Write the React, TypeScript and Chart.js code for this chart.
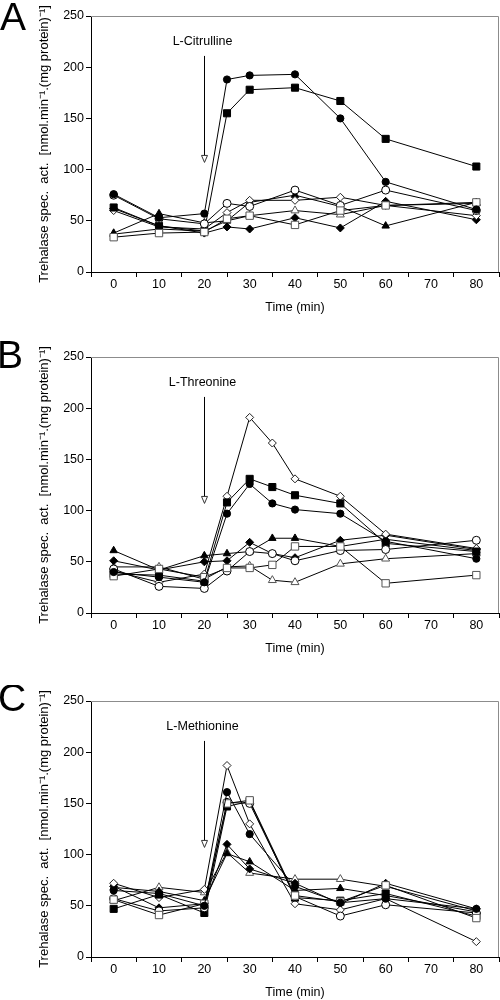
import React, { useEffect, useRef } from "react";
import { Chart, registerables } from "chart.js";

Chart.register(...registerables);

const FONT = '"Liberation Sans", Arial, Helvetica, sans-serif';

// ---------- data ----------
const TIME_A = [0, 10, 20, 25, 30, 40, 50, 60, 80];
const TIME_B = [0, 10, 20, 25, 30, 35, 40, 50, 60, 80];
const TIME_C = [0, 10, 20, 25, 30, 40, 50, 60, 80];

const X_MIN = -5;
const X_MAX = 85;
const X_STEP = 5;
const Y_MIN = 0;
const Y_MAX = 250;
const Y_STEP = 50;

const X_TITLE = "Time (min)";
const Y_TITLE = "Trehalase spec.  act.  [nmol.min\u207B\u00B9.(mg protein)\u207B\u00B9]";

// Panel A – L-Citrulline
const A_FILLED_CIRCLE = [76, 53, 57, 188, 192, 193, 150, 88, 61];
const A_FILLED_SQUARE = [63, 45, 40, 155, 178, 180, 167, 130, 103];
const A_OPEN_CIRCLE = [75, 52, 47, 67, 64, 80, 65, 80, 60];
const A_OPEN_DIAMOND = [60, 44, 42, 58, 70, 70, 73, 65, 55];
const A_FILLED_DIAMOND = [62, 45, 38, 44, 42, 53, 43, 69, 51];
const A_FILLED_TRIANGLE = [38, 57, 48, 50, 68, 75, 64, 45, 68];
const A_OPEN_TRIANGLE = [37, 42, 40, 50, 55, 60, 56, 65, 67];
const A_OPEN_SQUARE = [34, 38, 39, 52, 55, 46, 60, 65, 68];

// Panel B – L-Threonine
const B_FILLED_CIRCLE = [40, 35, 30, 97, 126, 107, 101, 97, 70, 53];
const B_FILLED_SQUARE = [38, 37, 31, 108, 131, 123, 115, 107, 68, 60];
const B_OPEN_CIRCLE = [43, 26, 24, 41, 60, 58, 51, 61, 62, 71];
const B_OPEN_DIAMOND = [41, 30, 38, 114, 191, 166, 131, 114, 77, 63];
const B_FILLED_DIAMOND = [51, 42, 50, 51, 69, 58, 54, 71, 76, 62];
const B_FILLED_TRIANGLE = [61, 42, 56, 58, 60, 73, 73, 65, 72, 61];
const B_OPEN_TRIANGLE = [45, 45, 33, 45, 46, 32, 30, 48, 53, 58];
const B_OPEN_SQUARE = [36, 43, 35, 44, 44, 47, 65, 65, 29, 37];

// Panel C – L-Methionine
const C_FILLED_CIRCLE = [65, 62, 50, 161, 120, 69, 53, 57, 47];
const C_FILLED_SQUARE = [47, 61, 43, 147, 152, 58, 55, 62, 40];
const C_OPEN_CIRCLE = [57, 45, 48, 151, 150, 59, 40, 51, 43];
const C_OPEN_DIAMOND = [72, 58, 66, 187, 130, 52, 46, 57, 15];
const C_FILLED_DIAMOND = [69, 48, 52, 110, 86, 72, 52, 72, 47];
const C_FILLED_TRIANGLE = [68, 64, 55, 101, 93, 65, 67, 60, 44];
const C_OPEN_TRIANGLE = [55, 68, 63, 102, 82, 76, 76, 69, 45];
const C_OPEN_SQUARE = [56, 41, 52, 150, 153, 60, 54, 70, 38];

// Annotation (arrow at addition time)
const ARROW_TIME = 20;
const ARROW_FROM = 211;
const ARROW_TO = 107;
const LABEL_AT = 225;

// ---------- styles ----------
type MarkerKey =
  | "filledCircle"
  | "openSquare"
  | "openCircle"
  | "filledSquare"
  | "openDiamond"
  | "filledDiamond"
  | "filledTriangle"
  | "openTriangle";

const MARKERS: Record<MarkerKey, { style: string; radius: number; fill: string; stroke: string }> = {
  filledCircle: { style: "circle", radius: 3.6, fill: "#000", stroke: "#000" },
  openSquare: { style: "rect", radius: 5.2, fill: "#fff", stroke: "#555" },
  openCircle: { style: "circle", radius: 4, fill: "#fff", stroke: "#000" },
  filledSquare: { style: "rect", radius: 5, fill: "#000", stroke: "#000" },
  openDiamond: { style: "rectRot", radius: 4, fill: "#fff", stroke: "#222" },
  filledDiamond: { style: "rectRot", radius: 4, fill: "#000", stroke: "#000" },
  filledTriangle: { style: "triangle", radius: 4.3, fill: "#000", stroke: "#000" },
  openTriangle: { style: "triangle", radius: 4.6, fill: "#fff", stroke: "#555" },
};

type PanelDef = {
  letter: string;
  letterX: number;
  letterDy: number;
  label: string;
  top: number;
  times: number[];
  series: [MarkerKey, number[]][];
};

const PANELS: PanelDef[] = [
  {
    letter: "A",
    letterX: 0,
    letterDy: 14,
    label: "L-Citrulline",
    top: 0,
    times: TIME_A,
    series: [
      ["filledCircle", A_FILLED_CIRCLE],
      ["openSquare", A_OPEN_SQUARE],
      ["openCircle", A_OPEN_CIRCLE],
      ["filledSquare", A_FILLED_SQUARE],
      ["openDiamond", A_OPEN_DIAMOND],
      ["filledDiamond", A_FILLED_DIAMOND],
      ["filledTriangle", A_FILLED_TRIANGLE],
      ["openTriangle", A_OPEN_TRIANGLE],
    ],
  },
  {
    letter: "B",
    letterX: -3,
    letterDy: 11,
    label: "L-Threonine",
    top: 341,
    times: TIME_B,
    series: [
      ["filledCircle", B_FILLED_CIRCLE],
      ["openSquare", B_OPEN_SQUARE],
      ["openCircle", B_OPEN_CIRCLE],
      ["filledSquare", B_FILLED_SQUARE],
      ["openDiamond", B_OPEN_DIAMOND],
      ["filledDiamond", B_FILLED_DIAMOND],
      ["filledTriangle", B_FILLED_TRIANGLE],
      ["openTriangle", B_OPEN_TRIANGLE],
    ],
  },
  {
    letter: "C",
    letterX: -2,
    letterDy: 10,
    label: "L-Methionine",
    top: 685,
    times: TIME_C,
    series: [
      ["filledCircle", C_FILLED_CIRCLE],
      ["openSquare", C_OPEN_SQUARE],
      ["openCircle", C_OPEN_CIRCLE],
      ["filledSquare", C_FILLED_SQUARE],
      ["openDiamond", C_OPEN_DIAMOND],
      ["filledDiamond", C_FILLED_DIAMOND],
      ["filledTriangle", C_FILLED_TRIANGLE],
      ["openTriangle", C_OPEN_TRIANGLE],
    ],
  },
];

const CANVAS_W = 500;
const CANVAS_H = 315;

const decorPlugin = {
  id: "panelDecor",
  afterDraw(chart: any, _args: any, opts: any) {
    const { ctx, chartArea: ca, scales } = chart;
    ctx.save();
    // top & right frame
    ctx.strokeStyle = "#8c8c8c";
    ctx.lineWidth = 1;
    ctx.beginPath();
    ctx.moveTo(ca.left, ca.top + 0.5);
    ctx.lineTo(ca.right - 0.5, ca.top + 0.5);
    ctx.lineTo(ca.right - 0.5, ca.bottom);
    ctx.stroke();

    // panel letter
    ctx.fillStyle = "#000";
    ctx.font = `39px ${FONT}`;
    ctx.textAlign = "left";
    ctx.textBaseline = "alphabetic";
    ctx.fillText(opts.letter, opts.letterX, ca.top + opts.letterDy);

    // annotation label and arrow
    const x = Math.round(scales.x.getPixelForValue(opts.arrowTime)) + 0.5;
    const yFrom = scales.y.getPixelForValue(opts.arrowFrom);
    const yTo = scales.y.getPixelForValue(opts.arrowTo);
    const yLab = scales.y.getPixelForValue(opts.labelAt);
    ctx.font = `12.5px ${FONT}`;
    ctx.textAlign = "center";
    ctx.textBaseline = "middle";
    ctx.fillText(opts.label, x - 2, yLab);

    ctx.strokeStyle = "#000";
    ctx.beginPath();
    ctx.moveTo(x, yFrom);
    ctx.lineTo(x, yTo - 7);
    ctx.stroke();
    ctx.fillStyle = "#fff";
    ctx.strokeStyle = "#333";
    ctx.beginPath();
    ctx.moveTo(x - 3, yTo - 7);
    ctx.lineTo(x + 3, yTo - 7);
    ctx.lineTo(x, yTo);
    ctx.closePath();
    ctx.fill();
    ctx.stroke();
    ctx.restore();
  },
};

function Panel({ def }: { def: PanelDef }) {
  const ref = useRef<HTMLCanvasElement | null>(null);

  useEffect(() => {
    if (!ref.current) return;
    const datasets = def.series.map(([key, values]) => {
      const m = MARKERS[key];
      return {
        label: key,
        data: def.times.map((t, i) => ({ x: t, y: values[i] })),
        borderColor: "#000",
        borderWidth: 1,
        pointStyle: m.style,
        pointRadius: m.radius,
        pointBackgroundColor: m.fill,
        pointBorderColor: m.stroke,
        pointBorderWidth: 1,
        fill: false,
        tension: 0,
      };
    });

    const chart = new Chart(ref.current, {
      type: "line",
      data: { datasets } as any,
      plugins: [decorPlugin],
      options: {
        animation: false,
        responsive: false,
        maintainAspectRatio: false,
        layout: { autoPadding: false, padding: { top: 16, right: 1, bottom: 0, left: 0 } },
        plugins: {
          legend: { display: false },
          tooltip: { enabled: false },
          panelDecor: {
            letter: def.letter,
            letterX: def.letterX,
            letterDy: def.letterDy,
            label: def.label,
            arrowTime: ARROW_TIME,
            arrowFrom: ARROW_FROM,
            arrowTo: ARROW_TO,
            labelAt: LABEL_AT,
          },
        } as any,
        scales: {
          x: {
            type: "linear",
            min: X_MIN,
            max: X_MAX,
            afterFit: (axis: any) => {
              axis.height = 43;
              axis.paddingLeft = 0;
              axis.paddingRight = 0;
            },
            ticks: {
              stepSize: X_STEP,
              autoSkip: false,
              maxRotation: 0,
              padding: 0,
              color: "#000",
              font: { family: FONT, size: 12.5 },
              callback: (v: any) => {
                const n = Number(v);
                return n >= 0 && n <= 80 && n % 10 === 0 ? String(n) : "";
              },
            },
            grid: {
              drawOnChartArea: false,
              drawTicks: true,
              tickLength: 5,
              color: (c: any) => (c.tick && c.tick.value % 10 === 0 ? "rgba(0,0,0,0)" : "#000"),
              tickColor: (c: any) => (c.tick && c.tick.value % 10 === 0 ? "rgba(0,0,0,0)" : "#000"),
            },
            border: { display: true, color: "#000", width: 1 },
            title: {
              display: true,
              text: X_TITLE,
              color: "#000",
              font: { family: FONT, size: 12.5 },
              padding: { top: 0, bottom: 0 },
            },
          },
          y: {
            type: "linear",
            min: Y_MIN,
            max: Y_MAX,
            afterFit: (axis: any) => {
              axis.width = 91;
            },
            ticks: {
              stepSize: Y_STEP,
              padding: 2,
              color: "#000",
              font: { family: FONT, size: 12.5 },
            },
            grid: {
              drawOnChartArea: false,
              drawTicks: true,
              tickLength: 5,
              color: "#000",
              tickColor: "#000",
            },
            border: { display: true, color: "#000", width: 1 },
            title: {
              display: true,
              text: Y_TITLE,
              color: "#000",
              font: { family: FONT, size: 13 },
              padding: { top: 37, bottom: 0 },
            },
          },
        },
      } as any,
    });
    return () => chart.destroy();
  }, [def]);

  return (
    <canvas
      ref={ref}
      width={CANVAS_W}
      height={CANVAS_H}
      style={{
        position: "absolute",
        left: 0,
        top: def.top,
        width: CANVAS_W,
        height: CANVAS_H,
        display: "block",
      }}
    />
  );
}

export default function App() {
  return (
    <div
      style={{
        position: "absolute",
        left: 0,
        top: 0,
        width: 500,
        height: 1000,
        background: "#fff",
        overflow: "hidden",
      }}
    >
      {PANELS.map((p) => (
        <Panel key={p.letter} def={p} />
      ))}
    </div>
  );
}
